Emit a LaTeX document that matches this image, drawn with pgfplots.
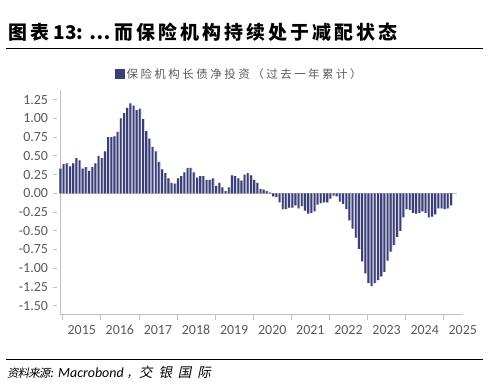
\documentclass[border=0pt]{standalone}
\usepackage{fontspec}
\setmainfont{Carlito}
\usepackage{pgfplots}
\usepackage{pgfplotstable}
\pgfplotsset{compat=1.18}
\newfontfamily\cjktitle{Noto Sans CJK SC}[LetterSpace=16]
\newfontfamily\cjkplain{Noto Sans CJK SC}
\newfontfamily\cjklegend{Noto Sans CJK SC}[LetterSpace=22]
\newfontfamily\cjksrc{Noto Sans CJK SC}[FakeSlant=0.2,LetterSpace=-8]
\newfontfamily\cjksrcw{Noto Sans CJK SC}[FakeSlant=0.2,LetterSpace=44]
\definecolor{navy}{HTML}{3C3F74}
\definecolor{lav}{HTML}{B9BCD6}
\definecolor{tickc}{HTML}{595959}
\definecolor{axl}{HTML}{BFBFBF}

\pgfplotstableread{
i v
0 0.33
1 0.39
2 0.40
3 0.36
4 0.40
5 0.47
6 0.44
7 0.33
8 0.35
9 0.30
10 0.35
11 0.40
12 0.50
13 0.47
14 0.56
15 0.75
16 0.75
17 0.76
18 0.82
19 1.00
20 1.07
21 1.14
22 1.20
23 1.17
24 1.11
25 1.13
26 0.99
27 0.83
28 0.73
29 0.62
30 0.56
31 0.42
32 0.32
33 0.27
34 0.20
35 0.14
36 0.13
37 0.20
38 0.23
39 0.28
40 0.34
41 0.34
42 0.28
43 0.21
44 0.23
45 0.23
46 0.18
47 0.18
48 0.20
49 0.10
50 0.14
51 0.08
52 0.03
53 0.08
54 0.24
55 0.23
56 0.20
57 0.17
58 0.25
59 0.27
60 0.24
61 0.18
62 0.14
63 0.06
64 0.05
65 0.03
66 0.01
67 -0.04
68 -0.05
69 -0.12
70 -0.21
71 -0.21
72 -0.19
73 -0.19
74 -0.16
75 -0.20
76 -0.17
77 -0.23
78 -0.27
79 -0.26
80 -0.24
81 -0.15
82 -0.13
83 -0.12
84 -0.12
85 -0.07
86 -0.03
87 -0.04
88 -0.11
89 -0.14
90 -0.21
91 -0.36
92 -0.47
93 -0.59
94 -0.74
95 -0.91
96 -1.07
97 -1.20
98 -1.24
99 -1.20
100 -1.16
101 -1.11
102 -1.05
103 -0.90
104 -0.78
105 -0.69
106 -0.58
107 -0.50
108 -0.32
109 -0.21
110 -0.22
111 -0.26
112 -0.27
113 -0.26
114 -0.24
115 -0.26
116 -0.32
117 -0.31
118 -0.28
119 -0.20
120 -0.20
121 -0.21
122 -0.20
123 -0.16
}\data

\begin{document}
\begin{tikzpicture}
\path[use as bounding box] (0,0) rectangle (488bp,-384bp);
\node[anchor=west, inner sep=0pt, font=\bfseries\fontsize{19}{22}\selectfont] at (8bp,-32bp) {{\cjktitle 图表}\hspace{4.5bp}{\cjkplain 13:}\hspace{6bp}{\cjkplain …}\hspace{4bp}{\cjktitle 而保险机构持续处于减配状态}};
\draw[line width=1.3bp] (6bp,-48.3bp) -- (483bp,-48.3bp);
\draw[line width=1.3bp] (6bp,-359.3bp) -- (483bp,-359.3bp);
\node[anchor=west, inner sep=0pt] at (7bp,-372bp) {{\cjksrc\fontsize{11.5}{13}\selectfont 资料来源}{\fontsize{14}{16}\selectfont\itshape : Macrobond}\hspace{3bp}{\cjksrc\fontsize{11.5}{13}\selectfont ，}\hspace{1bp}{\cjksrcw\fontsize{13.5}{15}\selectfont 交银国际}};
\begin{axis}[
  at={(60bp,-314bp)}, anchor=south west, scale only axis,
  width=403bp, height=224bp,
  xmin=-0.22, xmax=126.7, ymin=-1.611, ymax=1.379,
  clip=false,
  axis x line*=bottom, axis y line*=left,
  axis line style={axl, line width=0.8bp, -},
  xtick={0.63,12.63,24.63,36.63,48.63,60.63,72.63,84.63,96.63,108.63,120.63},
  xticklabels={2015,2016,2017,2018,2019,2020,2021,2022,2023,2024,2025},
  ytick={-1.5,-1.25,-1,-0.75,-0.5,-0.25,0,0.25,0.5,0.75,1,1.25},
  /pgf/number format/fixed, /pgf/number format/fixed zerofill,
  /pgf/number format/precision=2, /pgf/number format/assume math mode=true,
  tick align=outside, major tick length=4.5bp,
  tick style={axl, line width=0.8bp},
  ytick style={xshift=-2.5bp},
  xtick style={yshift=-1bp},
  ticklabel style={font=\fontsize{14}{16}\selectfont, text=tickc},
  xticklabel style={xshift=19.05bp, yshift=-3bp},
  yticklabel style={xshift=-4bp},
  legend style={at={(0.445,1.071)}, anchor=center, draw=none, fill=none,
    font=\cjklegend\fontsize{11.5}{13}\selectfont\color{tickc}},
]
\addplot[axl, line width=0.8bp, forget plot] coordinates {(-0.22,0) (124.8,0)};
\addplot[ybar, bar width=2.6bp, bar shift=0.1bp, fill=lav, draw=none, forget plot] table[x=i,y=v]{\data};
\addplot[ybar, bar width=1.8bp, bar shift=-0.3bp, fill=navy, draw=none,
  legend image code/.code={\fill[navy] (0bp,-4.7bp) rectangle (9.5bp,4.7bp);}] table[x=i,y=v]{\data};
\addlegendentry{保险机构长债净投资（过去一年累计）}
\end{axis}
\end{tikzpicture}
\end{document}
